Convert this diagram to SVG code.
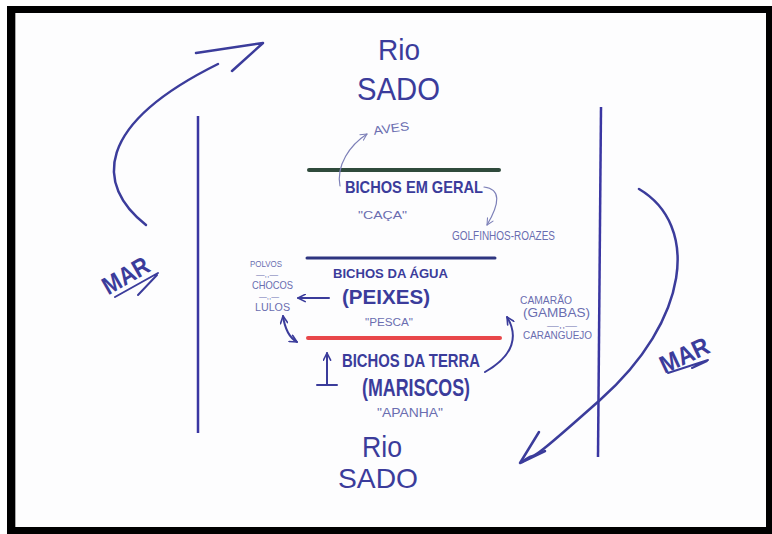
<svg xmlns="http://www.w3.org/2000/svg" width="772" height="534" viewBox="0 0 772 534">
<defs>
<style>
.ink{fill:#3b3c9b;font-family:"Liberation Sans",Arial,sans-serif}
.lt{fill:#6a6db0;font-family:"Liberation Sans",Arial,sans-serif}
.b{font-weight:bold}
.stk{fill:none;stroke:#3b3c9b;stroke-width:2.5;stroke-linecap:round;stroke-linejoin:round}
.thin{fill:none;stroke:#7d80b8;stroke-width:1.2;stroke-linecap:round;stroke-linejoin:round}
.mid{fill:none;stroke:#3b3c9b;stroke-width:2;stroke-linecap:round;stroke-linejoin:round}
</style>
<marker id="ah" viewBox="0 0 10 10" refX="9" refY="5" markerWidth="9" markerHeight="9" markerUnits="userSpaceOnUse" orient="auto-start-reverse">
<path d="M1,1 L9,5 L1,9" fill="none" stroke="#3b3c9b" stroke-width="1.8" stroke-linecap="round" stroke-linejoin="round"/>
</marker>
<marker id="ahl" viewBox="0 0 10 10" refX="9" refY="5" markerWidth="8" markerHeight="8" markerUnits="userSpaceOnUse" orient="auto-start-reverse">
<path d="M1,1 L9,5 L1,9" fill="none" stroke="#7d80b8" stroke-width="1.3" stroke-linecap="round" stroke-linejoin="round"/>
</marker>
</defs>
<rect x="0" y="0" width="772" height="534" fill="#ffffff"/>
<rect x="7" y="6" width="765" height="528" fill="#000000"/>
<rect x="15" y="13" width="751" height="514" fill="#fdfdfe"/>
<line x1="15.5" y1="13" x2="15.5" y2="527" stroke="#aaaaaa" stroke-width="1"/>

<g id="lines">
<line id="left-shore" x1="198" y1="116" x2="198" y2="433" stroke="#3a36a2" stroke-width="2.5"/>
<line id="right-shore" x1="601" y1="107" x2="598" y2="457" stroke="#3a36a2" stroke-width="2.5"/>
<line id="line-geral" x1="309" y1="170" x2="499" y2="170" stroke="#2f4a3c" stroke-width="4" stroke-linecap="round"/>
<line id="line-agua" x1="307" y1="258" x2="495" y2="258" stroke="#2e3580" stroke-width="3" stroke-linecap="round"/>
<line id="line-terra" x1="308" y1="338" x2="500" y2="338" stroke="#e8474a" stroke-width="4" stroke-linecap="round"/>
</g>

<g id="rio-top">
<text class="ink" x="378" y="60" font-size="30" textLength="42" lengthAdjust="spacingAndGlyphs">Rio</text>
<text class="ink" x="357" y="100" font-size="32" textLength="83" lengthAdjust="spacingAndGlyphs">SADO</text>
</g>
<g id="rio-bottom">
<text class="ink" x="362" y="457" font-size="30" textLength="40" lengthAdjust="spacingAndGlyphs">Rio</text>
<text class="ink" x="338" y="488" font-size="28" textLength="80" lengthAdjust="spacingAndGlyphs">SADO</text>
</g>

<g id="mar-left">
<text class="ink b" x="130" y="283" font-size="25" text-anchor="middle" textLength="50" lengthAdjust="spacingAndGlyphs" transform="rotate(-30 130 283)">MAR</text>
<path class="mid" d="M115,297 L158,273 M138,295 L157,275"/>
</g>
<g id="mar-right">
<text class="ink b" x="688" y="363" font-size="25" text-anchor="middle" textLength="52" lengthAdjust="spacingAndGlyphs" transform="rotate(-25 688 363)">MAR</text>
<path class="mid" d="M668,373 L708,360 M692,368 L707,361"/>
</g>

<g id="aves"><text class="lt" x="374" y="135" font-size="12" textLength="36" lengthAdjust="spacingAndGlyphs" transform="rotate(-8 374 135)">AVES</text></g>
<g id="bichos-geral"><text class="ink b" x="345" y="193" font-size="17" textLength="138" lengthAdjust="spacingAndGlyphs">BICHOS EM GERAL</text></g>
<g id="caca"><text class="lt" x="358" y="219" font-size="11" textLength="49" lengthAdjust="spacingAndGlyphs">"CAÇA"</text></g>
<g id="golfinhos"><text class="lt" x="452" y="240" font-size="12" textLength="103" lengthAdjust="spacingAndGlyphs">GOLFINHOS-ROAZES</text></g>

<g id="bichos-agua">
<text class="ink b" x="333" y="278" font-size="12.5" textLength="115" lengthAdjust="spacingAndGlyphs">BICHOS DA ÁGUA</text>
<text class="ink b" x="342" y="304" font-size="20" textLength="88" lengthAdjust="spacingAndGlyphs">(PEIXES)</text>
</g>
<g id="pesca"><text class="lt" x="365" y="326" font-size="10" textLength="48" lengthAdjust="spacingAndGlyphs">"PESCA"</text></g>

<g id="bichos-terra">
<text class="ink b" x="342" y="367" font-size="19" textLength="138" lengthAdjust="spacingAndGlyphs">BICHOS DA TERRA</text>
<text class="ink b" x="362" y="396" font-size="23" textLength="108" lengthAdjust="spacingAndGlyphs">(MARISCOS)</text>
</g>
<g id="apanha"><text class="lt" x="377" y="417" font-size="12" textLength="66" lengthAdjust="spacingAndGlyphs">"APANHA"</text></g>

<g id="cefalopodes">
<text class="lt" x="250" y="267" font-size="9" textLength="32" lengthAdjust="spacingAndGlyphs">POLVOS</text>
<text class="lt" x="256" y="277" font-size="6.5" textLength="22" lengthAdjust="spacingAndGlyphs">—,,—</text>
<text class="lt" x="252" y="289" font-size="11" textLength="41" lengthAdjust="spacingAndGlyphs">CHOCOS</text>
<text class="lt" x="259" y="298.5" font-size="6.5" textLength="20" lengthAdjust="spacingAndGlyphs">—,,—</text>
<text class="lt" x="255" y="311" font-size="10" textLength="35" lengthAdjust="spacingAndGlyphs">LULOS</text>
</g>

<g id="crustaceos">
<text class="lt" x="520" y="304" font-size="11" textLength="52" lengthAdjust="spacingAndGlyphs">CAMARÃO</text>
<text class="lt" x="523" y="317" font-size="12" textLength="67" lengthAdjust="spacingAndGlyphs">(GAMBAS)</text>
<text class="lt" x="547" y="328" font-size="8" textLength="30" lengthAdjust="spacingAndGlyphs">—,,—</text>
<text class="lt" x="523" y="339" font-size="10.5" textLength="69" lengthAdjust="spacingAndGlyphs">CARANGUEJO</text>
</g>

<g id="connectors">
<path class="stk" d="M146,225 C95,185 95,125 218,64"/>
<path class="stk" d="M196,53 L263,43 L232,71"/>
<path class="stk" d="M639,189 C700,225 690,320 600,400 S545,445 522,462"/>
<path class="stk" d="M539,432 L520,463 L545,451"/>
<path class="thin" marker-end="url(#ahl)" d="M340,186 C336,165 350,145 367,134"/>
<path class="thin" marker-end="url(#ahl)" d="M484,187 C501,189 500,203 487,225"/>
<path class="mid" marker-end="url(#ah)" d="M329,298 L298,298"/>
<path class="mid" marker-start="url(#ah)" marker-end="url(#ah)" d="M283,316 C285,330 290,338 297,342"/>
<path class="mid" marker-end="url(#ah)" d="M327,385 L327,353"/>
<path class="mid" d="M317,385 L337,385"/>
<path class="mid" marker-end="url(#ah)" d="M485,372 C515,355 518,335 507,317"/>
</g>
</svg>
